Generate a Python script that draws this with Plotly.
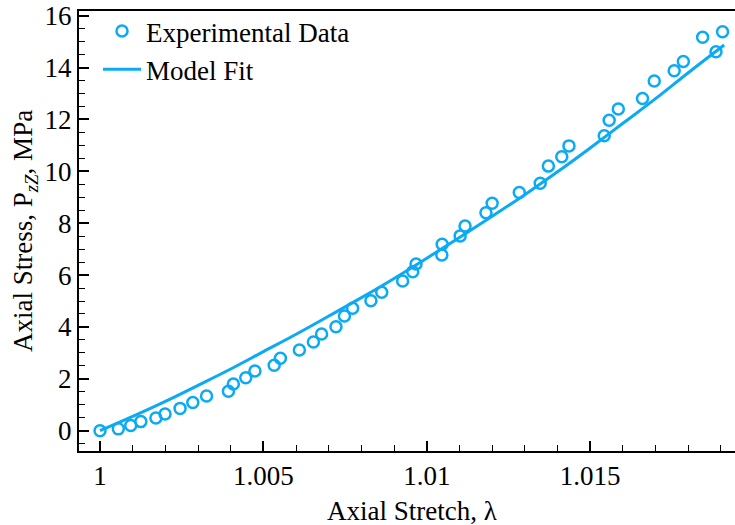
import plotly.graph_objects as go

exp_stretch = [1.0000, 1.00056, 1.00094, 1.00125, 1.00171, 1.00199, 1.00245, 1.00284,
               1.00326, 1.00393, 1.00408, 1.00446, 1.00474, 1.00533, 1.00552, 1.0061,
               1.00653, 1.00678, 1.00722, 1.00748, 1.00773, 1.00829, 1.00862, 1.00926,
               1.00957, 1.00967, 1.01046, 1.01047, 1.01102, 1.01117, 1.01181, 1.0120,
               1.01283, 1.01347, 1.01372, 1.01413, 1.01435, 1.01543, 1.01558, 1.01586,
               1.0166, 1.01696, 1.01757, 1.01785, 1.01844, 1.01885, 1.01905]
exp_stress = [0.0, 0.07, 0.2, 0.35, 0.49, 0.64, 0.86, 1.09,
              1.34, 1.52, 1.80, 2.04, 2.30, 2.52, 2.79, 3.11,
              3.42, 3.73, 4.01, 4.42, 4.72, 5.01, 5.34, 5.77,
              6.13, 6.43, 6.77, 7.19, 7.51, 7.89, 8.40, 8.77,
              9.18, 9.54, 10.20, 10.56, 10.98, 11.37, 11.97, 12.40,
              12.81, 13.48, 13.88, 14.23, 15.17, 14.61, 15.38]

# Model fit curve
fit_stretch = [1.000, 1.001, 1.002, 1.003, 1.004, 1.005, 1.006, 1.007, 1.008, 1.009,
               1.010, 1.011, 1.012, 1.013, 1.014, 1.015, 1.016, 1.017, 1.018, 1.0191]
fit_stress = [0.0, 0.55, 1.13, 1.75, 2.38, 3.05, 3.72, 4.42, 5.13, 5.87,
              6.65, 7.45, 8.27, 9.1, 9.98, 10.9, 11.85, 12.8, 13.8, 14.87]

x_tickvals = [1, 1.005, 1.01, 1.015]
x_ticktext = ["1", "1.005", "1.01", "1.015"]
y_tickvals = [0, 2, 4, 6, 8, 10, 12, 14, 16]

COLOR = "#0AAAF5"
FONT = "Liberation Serif"
FS = 27

fig = go.Figure()
fig.add_trace(go.Scatter(
    x=exp_stretch, y=exp_stress, mode="markers", name="Experimental Data",
    marker=dict(symbol="circle-open", size=11, color=COLOR, line=dict(width=2.5, color=COLOR)),
))
fig.add_trace(go.Scatter(
    x=fit_stretch, y=fit_stress, mode="lines", name="Model Fit",
    line=dict(color=COLOR, width=3, shape="spline"),
))

axis_common = dict(
    showgrid=False, zeroline=False, showline=True, linecolor="black", linewidth=2,
    ticks="inside", tickcolor="black", tickwidth=2, ticklen=10,
    tickfont=dict(family=FONT, size=FS, color="black"),
)

fig.update_xaxes(
    range=[0.999357, 1.019431], tickvals=x_tickvals, ticktext=x_ticktext,
    mirror=True,
    minor=dict(dtick=0.001, tick0=1, ticks="inside", ticklen=6, tickwidth=1.2, tickcolor="black"),
    **axis_common,
)
fig.update_yaxes(
    range=[-0.783, 16.18], tickvals=y_tickvals,
    minor=dict(dtick=0.5, tick0=0, ticks="inside", ticklen=6, tickwidth=1.2, tickcolor="black"),
    **axis_common,
)

fig.add_annotation(
    text="Axial Stretch, λ", xref="paper", yref="paper",
    x=(412 - 79) / 656, y=(451 - 511) / 440, xanchor="center", yanchor="middle",
    showarrow=False, font=dict(family=FONT, size=FS, color="black"),
)
fig.add_annotation(
    text="Axial Stress, P<sub><i>zZ</i></sub>, MPa", xref="paper", yref="paper",
    x=(25 - 79) / 656, y=0.5, xanchor="center", yanchor="middle", textangle=-90,
    showarrow=False, font=dict(family=FONT, size=FS, color="black"),
)

fig.update_layout(
    width=735, height=525,
    margin=dict(l=79, r=0, t=11, b=74),
    paper_bgcolor="white", plot_bgcolor="white",
    showlegend=True,
    legend=dict(
        x=(98 - 79) / 656, y=(451 - 7) / 440, xanchor="left", yanchor="top",
        bgcolor="rgba(0,0,0,0)", font=dict(family=FONT, size=FS, color="black"),
        itemwidth=38,
    ),
)

fig.write_html("out.html", config={"displayModeBar": False},
               post_script="document.body.style.margin='0';")
